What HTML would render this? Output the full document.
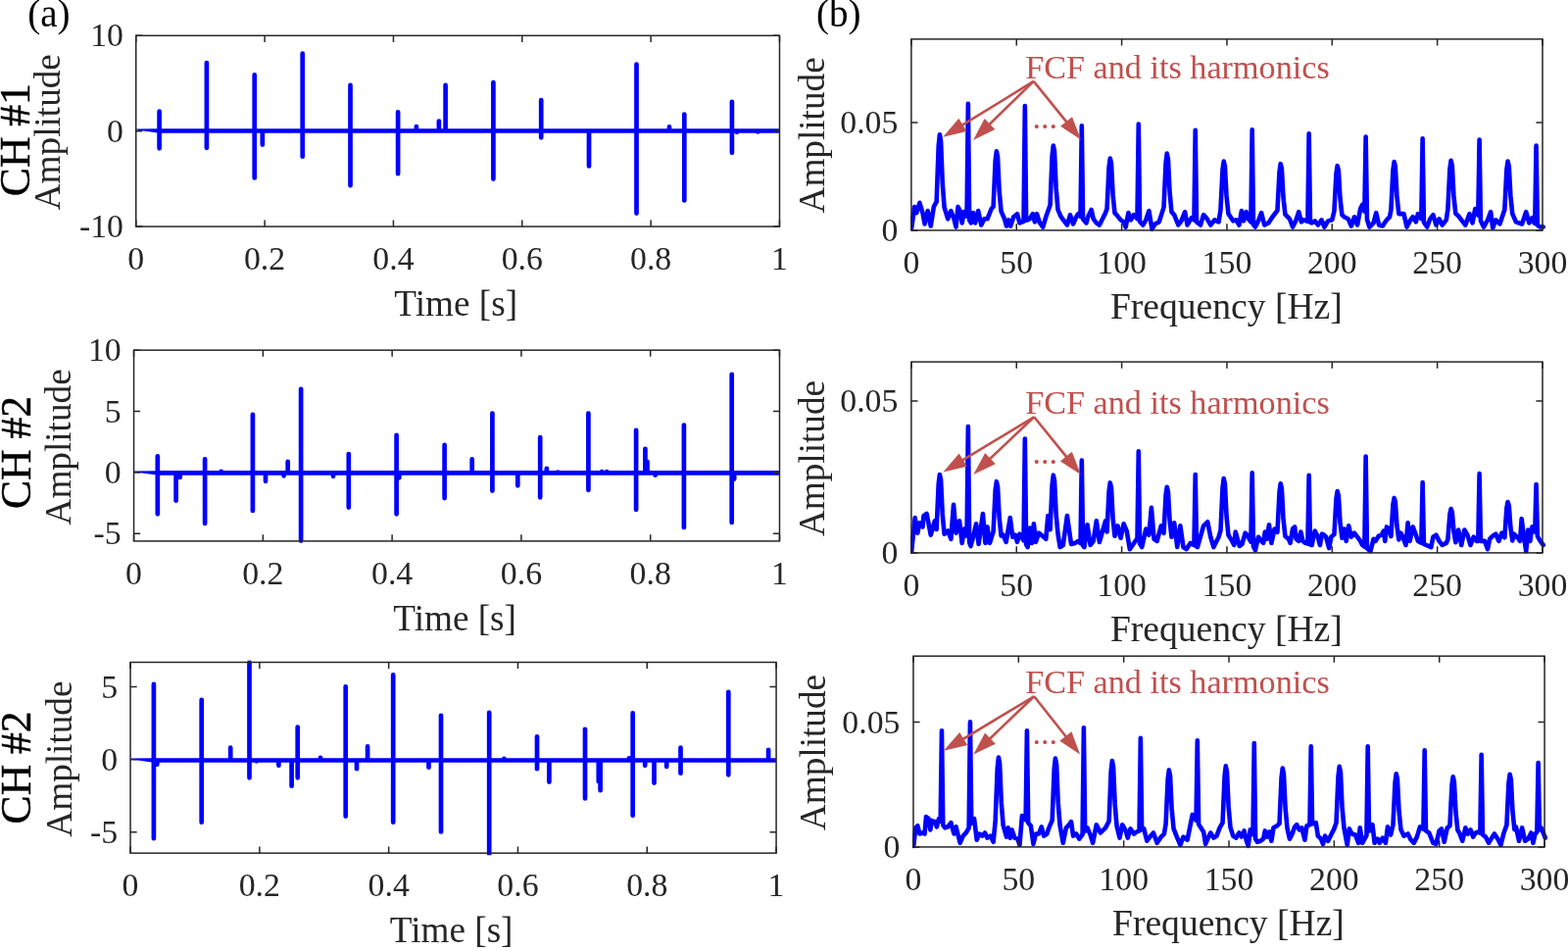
<!DOCTYPE html>
<html><head><meta charset="utf-8"><title>Figure</title>
<style>
html,body{margin:0;padding:0;background:#fff;}
body{width:1600px;height:970px;overflow:hidden;}
svg{display:block;}
text{font-family:"Liberation Serif","Times New Roman",serif;}
</style></head>
<body>
<svg width="1600" height="970" viewBox="0 0 1600 970">
<rect width="1600" height="970" fill="#fff"/>
<g font-family='"Liberation Serif", "Times New Roman", serif' font-size="33.8" fill="#262626">
<clipPath id="ca0"><rect x="138.74" y="34.33" width="656.74" height="198.75"/></clipPath>
<path clip-path="url(#ca0)" d="M139.04 131.5 L162.6 131.3 L162.6 135.7 L139.04 132.6 Z" fill="#0000ff"/>
<path clip-path="url(#ca0)" d="M162.6 133.5H795.48M162.6 113.65V151.35M210.9 64.05V150.85M259.7 76.45V181.45M267.8 133.5V147.55M308.7 54.65V159.65M357.5 86.95V189.15M406.1 114.35V177.15M424.9 129.05V133.5M447.9 123.55V133.5M454.6 86.95V133.5M503.4 84.15V182.55M552.2 102.05V140.35M601 133.5V169.45M649.5 65.55V217.55M683 129.45V133.5M698.3 116.55V204.45M746.9 103.85V155.85M751.9 133.5V134.85M773.3 133.5V134.45" stroke="#0000ff" stroke-width="4.7" stroke-linecap="round" stroke-linejoin="round" fill="none"/>
<path d="M138.74 231.08V224.48M138.74 36.33V42.93M270.09 231.08V224.48M270.09 36.33V42.93M401.44 231.08V224.48M401.44 36.33V42.93M532.78 231.08V224.48M532.78 36.33V42.93M664.13 231.08V224.48M664.13 36.33V42.93M795.48 231.08V224.48M795.48 36.33V42.93M138.74 231.08H145.34M795.48 231.08H788.88M138.74 133.71H145.34M795.48 133.71H788.88M138.74 36.33H145.34M795.48 36.33H788.88" stroke="#262626" stroke-width="1.5" fill="none"/>
<rect x="138.74" y="36.33" width="656.74" height="194.75" stroke="#262626" stroke-width="1.5" fill="none"/>
<text x="138.74" y="274.88" text-anchor="middle">0</text>
<text x="270.09" y="274.88" text-anchor="middle">0.2</text>
<text x="401.44" y="274.88" text-anchor="middle">0.4</text>
<text x="532.78" y="274.88" text-anchor="middle">0.6</text>
<text x="664.13" y="274.88" text-anchor="middle">0.8</text>
<text x="795.48" y="274.88" text-anchor="middle">1</text>
<text x="125.94" y="242.15" text-anchor="end">-10</text>
<text x="125.94" y="144.77" text-anchor="end">0</text>
<text x="125.94" y="47.4" text-anchor="end">10</text>
<text x="465.21" y="322.08" text-anchor="middle" font-size="37.2">Time [s]</text>
<clipPath id="ca1"><rect x="136.56" y="355.16" width="658.92" height="198.74"/></clipPath>
<path clip-path="url(#ca1)" d="M136.86 480.4 L160.8 480.2 L160.8 484.6 L136.86 481.5 Z" fill="#0000ff"/>
<path clip-path="url(#ca1)" d="M160.8 482.4H795.48M160.8 465.25V524.35M179.6 482.4V510.75M183.7 482.4V486.95M209.1 468.25V533.95M225.7 480.75V482.4M257.9 422.85V520.95M271 482.4V490.85M289.6 482.4V485.35M293.7 470.95V482.4M307.1 396.75V551.55M340 482.4V485.85M355.8 463.05V517.55M404.6 443.75V524.35M407.3 482.4V487.35M453.6 453.95V508.05M481.7 468.25V482.4M502.4 421.55V500.55M528.3 482.4V495.35M551.2 446.05V507.35M557.8 477.75V482.4M569.3 481.65V482.4M600.4 421.55V499.85M614.2 481.15V482.4M619.2 481.15V482.4M649.1 438.75V519.85M658.4 457.85V482.4M660.5 470.95V482.4M668.6 482.4V484.65M697.9 433.55V537.95M746.7 381.85V532.95M749.2 482.4V488.55" stroke="#0000ff" stroke-width="4.7" stroke-linecap="round" stroke-linejoin="round" fill="none"/>
<path d="M136.56 551.9V545.3M136.56 357.16V363.76M268.34 551.9V545.3M268.34 357.16V363.76M400.13 551.9V545.3M400.13 357.16V363.76M531.91 551.9V545.3M531.91 357.16V363.76M663.7 551.9V545.3M663.7 357.16V363.76M795.48 551.9V545.3M795.48 357.16V363.76M136.56 544.36H143.16M795.48 544.36H788.88M136.56 481.96H143.16M795.48 481.96H788.88M136.56 419.56H143.16M795.48 419.56H788.88M136.56 357.16H143.16M795.48 357.16H788.88" stroke="#262626" stroke-width="1.5" fill="none"/>
<rect x="136.56" y="357.16" width="658.92" height="194.74" stroke="#262626" stroke-width="1.5" fill="none"/>
<text x="136.56" y="595.7" text-anchor="middle">0</text>
<text x="268.34" y="595.7" text-anchor="middle">0.2</text>
<text x="400.13" y="595.7" text-anchor="middle">0.4</text>
<text x="531.91" y="595.7" text-anchor="middle">0.6</text>
<text x="663.7" y="595.7" text-anchor="middle">0.8</text>
<text x="795.48" y="595.7" text-anchor="middle">1</text>
<text x="123.76" y="555.43" text-anchor="end">-5</text>
<text x="123.76" y="493.03" text-anchor="end">0</text>
<text x="123.76" y="430.63" text-anchor="end">5</text>
<text x="123.76" y="368.23" text-anchor="end">10</text>
<text x="464.12" y="642.9" text-anchor="middle" font-size="37.2">Time [s]</text>
<clipPath id="ca2"><rect x="133.05" y="673.5" width="659.02" height="198.65"/></clipPath>
<path clip-path="url(#ca2)" d="M133.35 773.5 L156.9 773.3 L156.9 777.7 L133.35 774.6 Z" fill="#0000ff"/>
<path clip-path="url(#ca2)" d="M156.9 775.5H792.07M156.9 697.95V855.25M160.3 775.5V779.75M205.7 713.85V838.75M235.2 762.65V775.5M254.5 675.65V793.35M261.7 775.5V776.35M284.4 775.5V780.85M297.6 775.5V801.75M303.7 741.55V793.35M327 772.85V775.5M352.7 700.25V832.55M364 775.5V784.25M375.1 761.45V775.5M401.2 688.45V838.75M437.5 775.5V782.65M450 729.75V848.45M499.2 726.95V871.35M514.4 773.95V775.5M548 751.25V784.25M560.4 775.5V797.55M597 743.75V814.45M610.8 775.5V797.15M612.6 775.5V806.25M641.9 773.25V775.5M645.7 727.45V831.85M658.2 775.5V780.85M667.5 775.5V798.55M680.2 775.5V781.95M694.5 762.65V788.75M743.3 705.85V790.35M784.1 764.85V775.5" stroke="#0000ff" stroke-width="4.7" stroke-linecap="round" stroke-linejoin="round" fill="none"/>
<path d="M133.05 870.15V863.55M133.05 675.5V682.1M264.85 870.15V863.55M264.85 675.5V682.1M396.66 870.15V863.55M396.66 675.5V682.1M528.46 870.15V863.55M528.46 675.5V682.1M660.27 870.15V863.55M660.27 675.5V682.1M792.07 870.15V863.55M792.07 675.5V682.1M133.05 848.84H139.65M792.07 848.84H785.47M133.05 774.67H139.65M792.07 774.67H785.47M133.05 700.51H139.65M792.07 700.51H785.47" stroke="#262626" stroke-width="1.5" fill="none"/>
<rect x="133.05" y="675.5" width="659.02" height="194.65" stroke="#262626" stroke-width="1.5" fill="none"/>
<text x="133.05" y="913.95" text-anchor="middle">0</text>
<text x="264.85" y="913.95" text-anchor="middle">0.2</text>
<text x="396.66" y="913.95" text-anchor="middle">0.4</text>
<text x="528.46" y="913.95" text-anchor="middle">0.6</text>
<text x="660.27" y="913.95" text-anchor="middle">0.8</text>
<text x="792.07" y="913.95" text-anchor="middle">1</text>
<text x="120.25" y="859.9" text-anchor="end">-5</text>
<text x="120.25" y="785.74" text-anchor="end">0</text>
<text x="120.25" y="711.58" text-anchor="end">5</text>
<text x="460.66" y="961.15" text-anchor="middle" font-size="37.2">Time [s]</text>
<text transform="translate(61.3 134.7) rotate(-90)" text-anchor="middle" font-size="37.2">Amplitude</text>
<text transform="translate(72.3 455.9) rotate(-90)" text-anchor="middle" font-size="37.2">Amplitude</text>
<text transform="translate(72.6 774.1) rotate(-90)" text-anchor="middle" font-size="37.2">Amplitude</text>
<text transform="translate(29.6 142.6) rotate(-90)" text-anchor="middle" font-size="43.6" fill="#000" stroke="#000" stroke-width="0.45">CH #1</text>
<text transform="translate(30.9 461.5) rotate(-90)" text-anchor="middle" font-size="43.6" fill="#000" stroke="#000" stroke-width="0.45">CH #2</text>
<text transform="translate(30.9 782.9) rotate(-90)" text-anchor="middle" font-size="43.6" fill="#000" stroke="#000" stroke-width="0.45">CH #2</text>
<clipPath id="cb0"><rect x="928.9" y="39.9" width="648.1" height="198"/></clipPath>
<path clip-path="url(#cb0)" d="M930.15 232.58 L933.25 210.93 L935.31 217.11 L938.4 206.8 L941.49 217.11 L943.56 228.45 L946.65 215.05 L949.74 230.52 L952.84 210.93 L955.66 205.61 L957.7 148.97 L958.88 137.26 L960.07 144.09 L961.68 186.08 L963.61 211.47 L967.27 223.3 L970.36 215.05 L973.45 223.3 L975.52 231.55 L977.58 210.93 L979.64 215.05 L981.7 227.42 L983.76 216.08 L986.58 220.51 L987.87 105.8 L989.16 224.56 L990.98 227.42 L993.04 217.11 L995.1 227.42 L998.2 215.05 L1001.29 229.48 L1004.38 223.3 L1007.47 223.3 L1011.6 212.99 L1013.63 210.69 L1015.67 163.88 L1016.85 154.19 L1018.03 159.84 L1019.64 194.55 L1021.58 215.53 L1025 223.3 L1027.06 230.52 L1029.12 224.33 L1031.19 230.52 L1034.28 221.24 L1037.99 218.14 L1040.46 227.42 L1044.55 225.79 L1045.84 108 L1047.13 224.76 L1050.77 223.3 L1053.87 218.14 L1055.93 226.39 L1057.99 218.14 L1061.08 227.42 L1064.18 231.55 L1067.27 221.24 L1071.6 208.97 L1073.64 158.84 L1074.82 148.47 L1076 154.52 L1077.61 191.69 L1079.55 214.16 L1082.73 221.24 L1085.82 225.36 L1088.92 229.48 L1092.01 219.18 L1095.1 228.45 L1098.2 221.24 L1100.26 218.14 L1102.52 220.69 L1103.81 128.24 L1105.1 223.59 L1108.51 227.42 L1110.57 220.21 L1113.66 214.02 L1115.72 223.3 L1118.81 227.42 L1121.91 229.48 L1125 223.3 L1128.09 217.11 L1129.57 212.87 L1131.61 170.27 L1132.79 161.45 L1133.97 166.59 L1135.58 198.18 L1137.51 217.27 L1139.43 219.18 L1143.56 224.33 L1146.65 226.39 L1148.71 231.55 L1151.39 217.11 L1153.87 224.33 L1156.96 219.18 L1160.49 223.1 L1161.78 126.48 L1163.06 225.96 L1166.24 229.48 L1169.33 224.33 L1172.42 215.05 L1175.52 233.61 L1178.61 228.45 L1182.73 226.39 L1187.54 211.41 L1189.58 166.01 L1190.76 156.61 L1191.94 162.09 L1193.55 195.76 L1195.48 216.11 L1198.2 219.18 L1202.32 229.48 L1205.41 225.36 L1209.12 216.08 L1211.6 229.48 L1215.72 222.27 L1218.46 224.4 L1219.74 132.86 L1221.03 226.4 L1225 229.48 L1228.09 219.18 L1231.19 222.27 L1235.31 229.48 L1239.43 224.33 L1243.56 226.39 L1245.51 213.79 L1247.55 172.98 L1248.73 164.53 L1249.91 169.46 L1251.52 199.72 L1253.45 218.01 L1258.25 225.36 L1261.34 224.33 L1264.43 229.48 L1266.91 215.05 L1268.97 225.36 L1271.65 216.08 L1273.71 223.3 L1276.43 226.4 L1277.71 132.2 L1279 229.35 L1280.93 231.55 L1284.02 225.36 L1287.11 217.11 L1290.21 229.48 L1294.33 227.42 L1298.45 221.24 L1303.48 214.58 L1305.52 175.3 L1306.7 167.17 L1307.88 171.91 L1309.49 201.04 L1311.42 218.64 L1315.98 223.3 L1319.07 231.55 L1322.16 225.36 L1325.26 216.08 L1327.94 226.39 L1330.41 224.33 L1334.39 225.82 L1335.68 136.38 L1336.97 226.79 L1338.66 227.42 L1341.75 225.36 L1344.85 229.48 L1348.56 224.33 L1351.44 231.55 L1355.15 225.36 L1359.28 224.33 L1361.45 215.18 L1363.49 177.04 L1364.67 169.15 L1365.85 173.75 L1367.46 202.03 L1369.39 219.12 L1371.65 221.24 L1375.77 223.3 L1378.87 230.52 L1381.96 221.24 L1385.05 229.48 L1388.14 212.99 L1390.21 208.87 L1392.36 215.65 L1393.65 139.45 L1394.94 223.74 L1397.42 231.55 L1401.55 227.42 L1404.23 217.11 L1407.11 229.48 L1410.82 230.52 L1414.95 224.33 L1418.04 221.24 L1419.42 213.92 L1421.46 173.36 L1422.64 164.97 L1423.82 169.87 L1425.43 199.94 L1427.36 218.12 L1432.47 218.14 L1435.57 231.55 L1438.66 225.36 L1441.75 221.24 L1444.85 226.39 L1446.91 218.14 L1450.33 223.09 L1451.62 141.21 L1452.91 226.81 L1456.19 231.55 L1459.28 223.3 L1462.37 219.18 L1465.46 229.48 L1468.56 223.3 L1471.65 229.48 L1475.77 224.33 L1477.38 213.59 L1479.42 172.39 L1480.61 163.87 L1481.79 168.84 L1483.4 199.39 L1485.33 217.85 L1488.14 220.21 L1491.24 224.33 L1495.36 229.48 L1499.48 218.14 L1502.58 227.42 L1505.26 212.99 L1508.3 219.51 L1509.59 142.53 L1510.88 225.03 L1513.92 231.55 L1518.04 224.33 L1521.13 216.08 L1523.2 232.58 L1526.29 224.33 L1530.41 228.45 L1535.35 213.79 L1537.39 172.98 L1538.57 164.53 L1539.76 169.46 L1541.37 199.72 L1543.3 218.01 L1546.91 226.39 L1553.09 228.45 L1557.22 216.08 L1560.31 227.42 L1563.4 222.27 L1565.46 227.42 L1566.27 227.96 L1567.56 148.47 L1568.85 229.68 L1571.65 231.55 L1574.74 231.55" stroke="#0000ff" stroke-width="4.6" stroke-linejoin="round" stroke-linecap="round" fill="none"/>
<path d="M929.9 234.9V228.3M929.9 39.9V46.5M1037.25 234.9V228.3M1037.25 39.9V46.5M1144.6 234.9V228.3M1144.6 39.9V46.5M1251.95 234.9V228.3M1251.95 39.9V46.5M1359.3 234.9V228.3M1359.3 39.9V46.5M1466.65 234.9V228.3M1466.65 39.9V46.5M1574 234.9V228.3M1574 39.9V46.5M929.9 234.9H936.5M1574 234.9H1567.4M929.9 124.92H936.5M1574 124.92H1567.4" stroke="#262626" stroke-width="1.5" fill="none"/>
<rect x="929.9" y="39.9" width="644.1" height="195" stroke="#262626" stroke-width="1.5" fill="none"/>
<text x="929.9" y="279.1" text-anchor="middle">0</text>
<text x="1037.25" y="279.1" text-anchor="middle">50</text>
<text x="1144.6" y="279.1" text-anchor="middle">100</text>
<text x="1251.95" y="279.1" text-anchor="middle">150</text>
<text x="1359.3" y="279.1" text-anchor="middle">200</text>
<text x="1466.65" y="279.1" text-anchor="middle">250</text>
<text x="1574" y="279.1" text-anchor="middle">300</text>
<text x="916.4" y="245.97" text-anchor="end">0</text>
<text x="916.4" y="135.99" text-anchor="end">0.05</text>
<text x="1251.35" y="325.2" text-anchor="middle" font-size="37.6">Frequency [Hz]</text>
<text x="1046.2" y="80" fill="#c0504d" font-size="34.2">FCF and its harmonics</text>
<text x="1053.4" y="130.9" fill="#c0504d" font-size="34.2">...</text>
<path d="M1054.7 82.9 L979.83 128.95" stroke="#c0504d" stroke-width="2.6" fill="none"/>
<path d="M962.2 139.8 L978.35 120.82 L986.42 133.94 Z" fill="#c0504d"/>
<path d="M1054.7 82.9 L1007.83 128.56" stroke="#c0504d" stroke-width="2.6" fill="none"/>
<path d="M993 143 L1004.6 120.95 L1015.35 131.98 Z" fill="#c0504d"/>
<path d="M1054.7 82.9 L1089.95 126.33" stroke="#c0504d" stroke-width="2.6" fill="none"/>
<path d="M1103 142.4 L1082.08 128.85 L1094.04 119.15 Z" fill="#c0504d"/>
<clipPath id="cb1"><rect x="928.9" y="369.1" width="648.1" height="197.8"/></clipPath>
<path clip-path="url(#cb1)" d="M930.15 562.16 L933.66 528.14 L936.34 543.61 L938.4 533.3 L941.49 537.42 L942.53 526.08 L945.62 524.02 L949.74 545.67 L953.87 531.24 L955.66 539.95 L957.7 493.64 L958.88 484.06 L960.07 489.65 L961.68 523.98 L963.61 544.74 L967.27 541.55 L970.36 549.79 L973.04 514.74 L975.52 543.61 L979.02 531.24 L981.7 553.92 L983.76 539.48 L986.58 546.74 L987.87 435.08 L989.16 553.38 L990.57 557.01 L993.04 547.73 L996.13 534.33 L998.61 554.95 L1002.94 524.02 L1005.41 553.92 L1007.47 537.42 L1009.95 553.92 L1013.63 542.09 L1015.67 499.92 L1016.85 491.19 L1018.03 496.28 L1019.64 527.55 L1021.58 546.45 L1023.56 545.67 L1026.65 552.89 L1030.77 528.14 L1033.25 547.73 L1035.93 545.67 L1037.99 552.89 L1040.46 544.64 L1044.55 551.28 L1045.84 447.48 L1047.13 555.47 L1048.71 558.04 L1050.77 538.45 L1052.84 553.92 L1054.9 534.33 L1056.96 552.89 L1060.05 543.61 L1067.27 549.79 L1069.33 526.08 L1071.6 540.13 L1073.64 494.19 L1074.82 484.68 L1076 490.23 L1077.61 524.29 L1079.55 544.89 L1081.7 558.04 L1084.79 555.98 L1088.92 526.08 L1093.04 554.95 L1097.16 553.92 L1100.26 551.86 L1102.52 554.12 L1103.81 469.49 L1105.1 556.69 L1106.44 558.04 L1109.54 535.36 L1112.63 555.98 L1115.72 551.86 L1118.81 531.24 L1121.91 552.89 L1128.09 531.24 L1129.57 542.46 L1131.61 501.01 L1132.79 492.43 L1133.97 497.43 L1135.58 528.17 L1137.51 546.75 L1140.46 536.39 L1143.56 548.76 L1146.65 534.33 L1149.74 541.55 L1152.84 560.1 L1160.05 549.79 L1160.49 550.49 L1161.78 460.19 L1163.06 554.61 L1165.21 558.04 L1169.33 539.48 L1172.42 545.67 L1174.9 517.84 L1177.58 549.79 L1180.67 551.86 L1184.79 536.39 L1187.54 543.76 L1189.58 504.83 L1190.76 496.77 L1191.94 501.47 L1193.55 530.34 L1195.48 547.79 L1198.2 533.3 L1201.29 558.04 L1204.38 536.39 L1207.47 558.04 L1210.57 560.1 L1214.69 553.92 L1218.46 556.07 L1219.74 484.06 L1221.03 557.54 L1221.91 558.04 L1228.09 536.39 L1232.22 532.27 L1235.31 547.73 L1238.4 558.04 L1243.56 547.73 L1245.51 541.16 L1247.55 497.19 L1248.73 488.09 L1249.91 493.4 L1251.52 526 L1253.45 545.71 L1257.22 551.86 L1259.28 555.98 L1260.72 542.58 L1262.78 549.79 L1264.85 557.01 L1267.53 554.95 L1270.62 543.61 L1272.68 545.67 L1276.43 552.69 L1277.71 482.2 L1279 557.52 L1280.93 561.13 L1284.02 547.73 L1287.11 551.86 L1289.18 553.92 L1290.82 542.58 L1292.89 549.79 L1294.95 535.36 L1297.42 553.92 L1300.52 539.48 L1303.48 542.74 L1305.52 501.83 L1306.7 493.36 L1307.88 498.3 L1309.49 528.63 L1311.42 546.97 L1314.95 549.79 L1316.6 553.92 L1319.07 539.48 L1321.13 537.42 L1322.58 549.79 L1325.26 551.86 L1327.32 542.58 L1329.38 551.86 L1332.06 553.92 L1334.39 554.65 L1335.68 484.68 L1336.97 555.45 L1338.66 555.98 L1341.75 541.55 L1344.85 547.73 L1346.91 555.98 L1348.97 544.64 L1351.03 545.67 L1353.09 547.73 L1356.19 559.07 L1358.25 547.73 L1361.45 545.06 L1363.49 508.65 L1364.67 501.11 L1365.85 505.51 L1367.46 532.51 L1369.39 548.83 L1371.65 539.48 L1373.71 551.86 L1376.19 536.39 L1378.87 547.73 L1381.96 543.61 L1385.05 547.73 L1388.14 551.86 L1390.21 555.98 L1392.36 557.6 L1393.65 465.46 L1394.94 559.53 L1398.45 562.16 L1401.55 549.79 L1403.61 551.86 L1406.7 546.7 L1409.79 545.67 L1411.86 541.55 L1413.3 551.86 L1414.95 537.42 L1417.42 539.48 L1419.42 547.11 L1421.46 514.65 L1422.64 507.93 L1423.82 511.85 L1425.43 535.92 L1427.36 550.47 L1429.38 543.61 L1431.44 547.73 L1434.54 555.98 L1436.6 533.3 L1438.66 551.86 L1441.75 537.42 L1444.85 545.67 L1446.91 551.86 L1450.33 553.57 L1451.62 492.12 L1452.91 554.86 L1455.15 555.98 L1460.31 558.04 L1462.37 547.73 L1465.46 545.67 L1468.56 551.86 L1471.65 555.98 L1475.77 553.92 L1477.38 550.46 L1479.42 524.47 L1480.61 519.09 L1481.79 522.23 L1483.4 541.5 L1485.33 553.15 L1488.14 540.52 L1491.24 555.98 L1494.33 540.52 L1497.42 545.67 L1500.52 555.98 L1503.61 547.73 L1506.7 551.86 L1508.3 551.86 L1509.59 483.13 L1510.88 551.86 L1514.95 551.86 L1518.04 560.1 L1520.1 549.79 L1523.2 546.7 L1526.29 544.64 L1529.38 551.86 L1532.47 543.61 L1535.35 548.32 L1537.39 518.19 L1538.57 511.96 L1539.76 515.6 L1541.37 537.93 L1543.3 551.43 L1544.85 544.64 L1548.97 548.76 L1551.03 551.86 L1552.68 529.18 L1554.74 545.67 L1557.22 562.16 L1559.28 540.52 L1561.34 551.86 L1563.4 537.42 L1566.27 542.44 L1567.56 493.98 L1568.85 546.95 L1571.65 551.86 L1574.74 555.98" stroke="#0000ff" stroke-width="4.6" stroke-linejoin="round" stroke-linecap="round" fill="none"/>
<path d="M929.9 563.9V557.3M929.9 369.1V375.7M1037.25 563.9V557.3M1037.25 369.1V375.7M1144.6 563.9V557.3M1144.6 369.1V375.7M1251.95 563.9V557.3M1251.95 369.1V375.7M1359.3 563.9V557.3M1359.3 369.1V375.7M1466.65 563.9V557.3M1466.65 369.1V375.7M1574 563.9V557.3M1574 369.1V375.7M929.9 563.9H936.5M1574 563.9H1567.4M929.9 408.9H936.5M1574 408.9H1567.4" stroke="#262626" stroke-width="1.5" fill="none"/>
<rect x="929.9" y="369.1" width="644.1" height="194.8" stroke="#262626" stroke-width="1.5" fill="none"/>
<text x="929.9" y="608.1" text-anchor="middle">0</text>
<text x="1037.25" y="608.1" text-anchor="middle">50</text>
<text x="1144.6" y="608.1" text-anchor="middle">100</text>
<text x="1251.95" y="608.1" text-anchor="middle">150</text>
<text x="1359.3" y="608.1" text-anchor="middle">200</text>
<text x="1466.65" y="608.1" text-anchor="middle">250</text>
<text x="1574" y="608.1" text-anchor="middle">300</text>
<text x="916.4" y="574.97" text-anchor="end">0</text>
<text x="916.4" y="419.97" text-anchor="end">0.05</text>
<text x="1251.35" y="654.2" text-anchor="middle" font-size="37.6">Frequency [Hz]</text>
<text x="1046.2" y="422.4" fill="#c0504d" font-size="34.2">FCF and its harmonics</text>
<text x="1053.4" y="473.3" fill="#c0504d" font-size="34.2">...</text>
<path d="M1055.2 425.3 L980.11 470.69" stroke="#c0504d" stroke-width="2.6" fill="none"/>
<path d="M962.4 481.4 L978.7 462.55 L986.67 475.73 Z" fill="#c0504d"/>
<path d="M1055.2 425.3 L1008.32 469.76" stroke="#c0504d" stroke-width="2.6" fill="none"/>
<path d="M993.3 484 L1005.2 462.1 L1015.8 473.28 Z" fill="#c0504d"/>
<path d="M1055.2 425.3 L1089.76 467.92" stroke="#c0504d" stroke-width="2.6" fill="none"/>
<path d="M1102.8 484 L1081.89 470.44 L1093.85 460.74 Z" fill="#c0504d"/>
<clipPath id="cb2"><rect x="930.98" y="669.2" width="648.09" height="197.7"/></clipPath>
<path clip-path="url(#cb2)" d="M932.22 862.89 L934.28 844.33 L936.34 842.27 L938.4 850.52 L941.49 849.48 L943.56 850.52 L945 832.99 L947.68 835.05 L949.33 846.39 L950.77 837.11 L953.87 838.14 L955.93 843.3 L957.99 835.05 L959.68 837.58 L960.96 745.2 L962.25 841.45 L964.18 844.33 L967.27 843.3 L970.36 839.18 L973.45 850.52 L975.52 843.3 L979.64 859.79 L982.73 852.58 L985.82 849.48 L988.66 844.52 L989.95 736.29 L991.24 840.01 L994.07 835.05 L996.75 856.7 L999.23 850.52 L1002.32 852.58 L1005 849.48 L1007.47 854.64 L1010.57 852.58 L1013.66 858.76 L1015.71 836.46 L1017.75 783.42 L1018.93 772.45 L1020.11 778.85 L1021.72 818.17 L1023.66 841.95 L1027.06 853.61 L1028.71 844.33 L1030.77 854.64 L1032.63 846.39 L1035.31 854.64 L1038.4 855.67 L1040.46 861.86 L1042.94 831.96 L1046.63 836.25 L1047.92 745.2 L1049.2 839.25 L1051.8 842.27 L1054.48 860.82 L1056.96 850.52 L1060.05 850.52 L1062.73 843.3 L1065.21 852.58 L1068.3 850.52 L1070.36 844.33 L1073.68 836.77 L1075.72 784.32 L1076.9 773.46 L1078.08 779.8 L1079.69 818.68 L1081.62 842.2 L1084.79 859.79 L1087.89 844.33 L1090.98 841.24 L1093.04 838.14 L1095.1 852.58 L1098.2 850.52 L1101.29 855.67 L1104.6 851.12 L1105.88 742.4 L1107.17 847.58 L1109.54 844.33 L1112.63 851.55 L1115.1 859.79 L1118.81 841.24 L1122.94 849.48 L1128.09 844.33 L1131.65 837.53 L1133.69 786.56 L1134.87 776.01 L1136.05 782.16 L1137.66 819.96 L1139.59 842.81 L1142.53 854.64 L1145.21 841.24 L1148.71 847.42 L1150.77 854.64 L1153.45 845.36 L1156.96 850.52 L1160.05 848.45 L1162.56 847.38 L1163.85 752.84 L1165.14 846.27 L1167.27 845.36 L1170.36 857.73 L1173.45 853.61 L1176.96 849.48 L1180.67 859.79 L1184.79 853.61 L1187.89 850.52 L1189.62 840.36 L1191.66 794.85 L1192.84 785.43 L1194.02 790.93 L1195.63 824.67 L1197.56 845.07 L1201.29 854.64 L1204.38 861.86 L1207.47 853.61 L1211.6 856.7 L1216.75 830.93 L1220.53 836.77 L1221.82 755.38 L1223.11 840.75 L1228.09 848.45 L1230.15 860.82 L1233.25 853.61 L1235.31 849.48 L1238.4 854.64 L1241.49 852.58 L1244.59 844.33 L1247.58 839.14 L1249.62 791.26 L1250.8 781.36 L1251.99 787.14 L1253.6 822.63 L1255.53 844.09 L1258.25 852.58 L1261.34 854.64 L1264.43 849.48 L1266.91 853.61 L1269.59 847.42 L1271.65 856.7 L1273.71 862.89 L1275.77 846.39 L1278.5 851.07 L1279.79 757.93 L1281.08 855.48 L1282.99 858.76 L1286.08 857.73 L1289.18 855.67 L1290.82 847.42 L1293.3 853.61 L1295.36 848.45 L1297.42 857.73 L1299.48 844.33 L1303.2 842.27 L1305.55 839.83 L1307.59 793.28 L1308.77 783.65 L1309.95 789.27 L1311.56 823.78 L1313.5 844.64 L1315.98 855.67 L1318.66 850.52 L1321.13 843.3 L1323.2 841.24 L1325.88 846.39 L1328.35 844.33 L1331.44 856.7 L1333.51 842.27 L1336.47 841.28 L1337.76 761.24 L1339.04 840.42 L1342.78 839.18 L1344.85 852.58 L1347.94 855.67 L1350 860.82 L1352.06 852.58 L1355.15 857.73 L1358.25 851.55 L1361.34 845.36 L1363.52 839.29 L1365.56 791.71 L1366.74 781.87 L1367.92 787.61 L1369.53 822.88 L1371.46 844.21 L1374.74 861.86 L1376.8 845.36 L1379.48 850.52 L1382.99 851.55 L1386.08 859.79 L1387.73 844.33 L1390.21 859.79 L1394.44 852.18 L1395.72 761.24 L1397.01 847.54 L1400.52 841.24 L1402.58 859.79 L1405.67 855.67 L1407.73 859.79 L1410.82 854.64 L1413.92 859.79 L1415.98 843.3 L1419.07 851.55 L1421.49 841.51 L1423.53 798.21 L1424.71 789.25 L1425.89 794.48 L1427.5 826.58 L1429.43 845.98 L1432.47 852.58 L1436.6 850.52 L1439.69 856.7 L1442.78 859.79 L1445.88 853.61 L1448.97 843.3 L1452.4 845.59 L1453.69 765.32 L1454.98 847.31 L1458.25 849.48 L1462.37 859.79 L1465.46 860.82 L1468.56 847.42 L1471.03 845.36 L1473.71 858.76 L1476.8 844.33 L1479.46 842.42 L1481.5 800.9 L1482.68 792.31 L1483.86 797.32 L1485.47 828.1 L1487.4 846.72 L1489.18 849.48 L1492.27 857.73 L1495.36 844.33 L1497.84 850.52 L1500.52 846.39 L1503.2 853.61 L1505.67 849.48 L1508.76 848.45 L1510.37 849.6 L1511.66 769.9 L1512.95 851.44 L1515.98 853.61 L1519.07 859.79 L1522.16 854.64 L1524.85 850.52 L1528.35 855.67 L1531.44 861.86 L1534.54 849.48 L1537.42 841.66 L1539.46 798.66 L1540.65 789.76 L1541.83 794.95 L1543.44 826.83 L1545.37 846.11 L1546.91 843.3 L1550 857.73 L1553.09 844.33 L1556.19 857.73 L1559.28 855.67 L1562.37 849.48 L1564.43 859.79 L1566.49 850.52 L1568.34 848.67 L1569.63 778.05 L1570.92 846.09 L1572.68 844.33 L1576.8 854.64" stroke="#0000ff" stroke-width="4.6" stroke-linejoin="round" stroke-linecap="round" fill="none"/>
<path d="M931.98 863.9V857.3M931.98 669.2V675.8M1039.33 863.9V857.3M1039.33 669.2V675.8M1146.68 863.9V857.3M1146.68 669.2V675.8M1254.03 863.9V857.3M1254.03 669.2V675.8M1361.37 863.9V857.3M1361.37 669.2V675.8M1468.72 863.9V857.3M1468.72 669.2V675.8M1576.07 863.9V857.3M1576.07 669.2V675.8M931.98 863.9H938.58M1576.07 863.9H1569.47M931.98 736.58H938.58M1576.07 736.58H1569.47" stroke="#262626" stroke-width="1.5" fill="none"/>
<rect x="931.98" y="669.2" width="644.09" height="194.7" stroke="#262626" stroke-width="1.5" fill="none"/>
<text x="931.98" y="908.1" text-anchor="middle">0</text>
<text x="1039.33" y="908.1" text-anchor="middle">50</text>
<text x="1146.68" y="908.1" text-anchor="middle">100</text>
<text x="1254.03" y="908.1" text-anchor="middle">150</text>
<text x="1361.37" y="908.1" text-anchor="middle">200</text>
<text x="1468.72" y="908.1" text-anchor="middle">250</text>
<text x="1576.07" y="908.1" text-anchor="middle">300</text>
<text x="918.48" y="874.97" text-anchor="end">0</text>
<text x="918.48" y="747.65" text-anchor="end">0.05</text>
<text x="1253.43" y="954.2" text-anchor="middle" font-size="37.6">Frequency [Hz]</text>
<text x="1046.2" y="707.4" fill="#c0504d" font-size="34.2">FCF and its harmonics</text>
<text x="1053.4" y="759.1" fill="#c0504d" font-size="34.2">...</text>
<path d="M1055.2 710.3 L980.65 755.05" stroke="#c0504d" stroke-width="2.6" fill="none"/>
<path d="M962.9 765.7 L979.26 746.9 L987.18 760.11 Z" fill="#c0504d"/>
<path d="M1055.2 710.3 L1008.26 755.19" stroke="#c0504d" stroke-width="2.6" fill="none"/>
<path d="M993.3 769.5 L1005.11 747.55 L1015.75 758.68 Z" fill="#c0504d"/>
<path d="M1055.2 710.3 L1089.25 753.27" stroke="#c0504d" stroke-width="2.6" fill="none"/>
<path d="M1102.1 769.5 L1081.35 755.7 L1093.42 746.14 Z" fill="#c0504d"/>
<text transform="translate(841.2 137.9) rotate(-90)" text-anchor="middle" font-size="37.2">Amplitude</text>
<text transform="translate(840.5 467.5) rotate(-90)" text-anchor="middle" font-size="37.2">Amplitude</text>
<text transform="translate(842 767.5) rotate(-90)" text-anchor="middle" font-size="37.2">Amplitude</text>
<text x="28.2" y="26.6" font-size="39" fill="#000">(a)</text>
<text x="833.0" y="26.5" font-size="39" fill="#000">(b)</text>
</g>
</svg>
</body></html>
